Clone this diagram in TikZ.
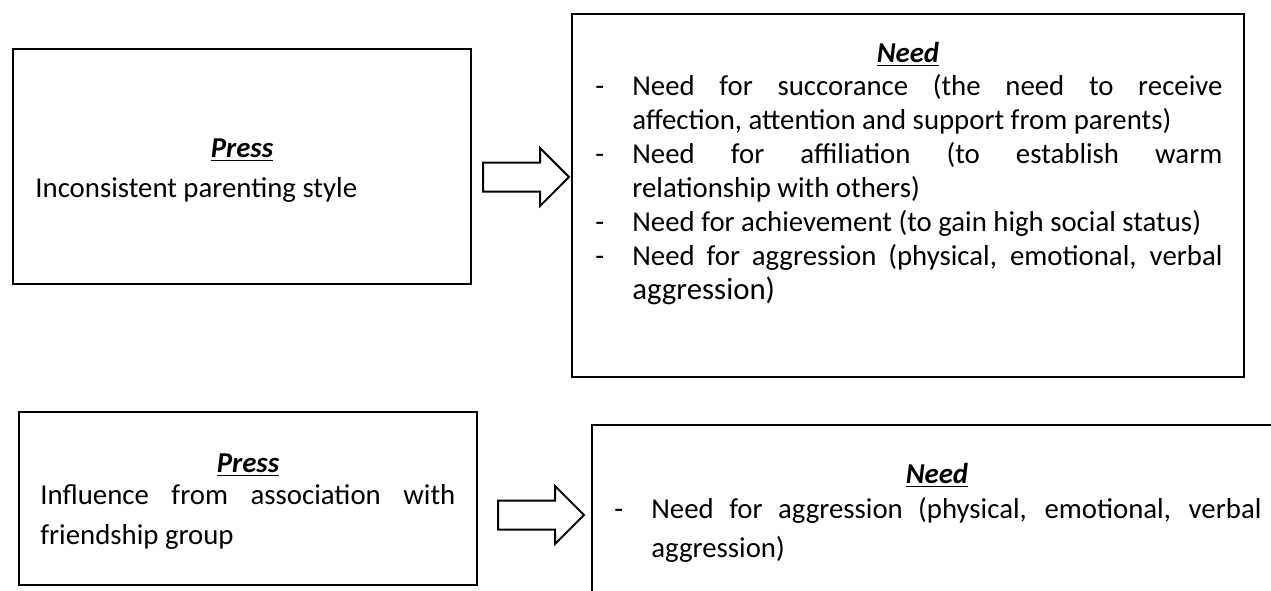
\documentclass[tikz,border=0pt]{standalone}
\usepackage{fontspec}
\setmainfont{Carlito}
\usepackage{tikz}
\usetikzlibrary{shapes.arrows}

\newcommand{\dashitem}[1]{\noindent\hangindent=18.5pt\hangafter=1\makebox[18.5pt][l]{-}#1\par}

\begin{document}
\begin{tikzpicture}[x=0.5pt,y=-0.5pt,
	box/.style={draw,line width=1pt,inner sep=0pt},
	head/.style={anchor=base,inner sep=0pt,font=\fontsize{14.4}{17}\selectfont\bfseries\itshape},
	body/.style={anchor=base west,inner sep=0pt,font=\fontsize{14.4}{17}\selectfont},
	bigarrow/.style={draw,line width=1pt,single arrow,single arrow head extend=7.25pt,inner xsep=0pt,inner ysep=6.75pt,minimum height=43pt,anchor=tail}]
	\path[use as bounding box,clip] (0,0) rectangle (1271,590);
	
	\node[box,minimum width=229pt,minimum height=117.5pt] (press1) at (242,166.5) {};
	\node[box,minimum width=336pt,minimum height=181.5pt] (need1) at (908,195.5) {};
	\node[box,minimum width=229pt,minimum height=86.5pt] (press2) at (248,498.5) {};
	\node[box,minimum width=354pt,minimum height=107.5pt] (need2) at (946,532.5) {};
	
	\node[bigarrow] (arr1) at (482,177) {};
	\node[bigarrow] (arr2) at (497,515) {};
	
	\node[head] (presshead1) at (242,157) {\underline{Press}};
	\node[body] (presstext1) at (35,197) {Inconsistent parenting style};
	
	\node[head] (needhead1) at (908,62) {\underline{Need}};
	\node[body,text width=313.5pt,align=justify] (needlist1) at (595,95) {\dashitem{Need for succorance (the need to receive\linebreak affection, attention and support from parents)}\dashitem{Need for affiliation (to establish warm\linebreak relationship with others)}\dashitem{Need for achievement (to gain high social status)}\dashitem{Need for aggression (physical, emotional, verbal\linebreak {\fontsize{15.4}{17}\selectfont aggression)}}};
	
	\node[head] (presshead2) at (248,472) {\underline{Press}};
	\node[body,text width=207.5pt,align=justify,font=\fontsize{14.4}{20}\selectfont] (presstext2) at (40,504) {Influence from association with\linebreak friendship group};
	
	\node[head] (needhead2) at (937,483) {\underline{Need}};
	\node[body,text width=323.5pt,align=justify,font=\fontsize{14.4}{19.5}\selectfont] (needlist2) at (614,518) {\dashitem{Need for aggression (physical, emotional, verbal\linebreak aggression)}};
\end{tikzpicture}
\end{document}
